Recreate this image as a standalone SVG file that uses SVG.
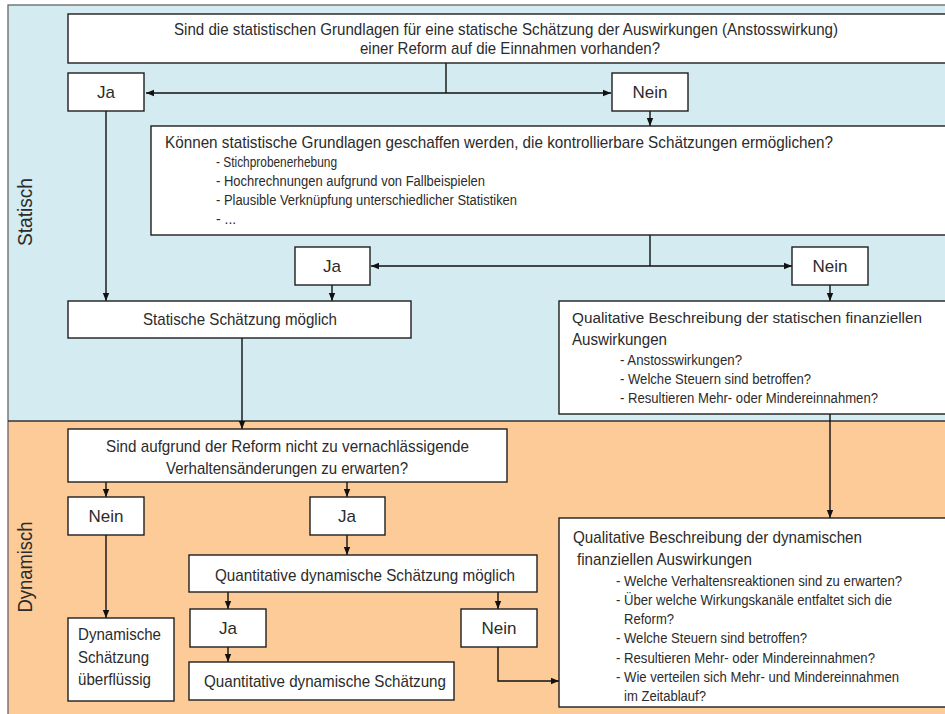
<svg xmlns="http://www.w3.org/2000/svg" width="945" height="714" viewBox="0 0 945 714">
<style>
.box{fill:#fff;stroke:#1e1e1e;stroke-width:1.4}
.t{font-family:"Liberation Sans Narrow","Liberation Sans",Arial,sans-serif;font-size:17px;fill:#2b2b2b}
.s{font-family:"Liberation Sans Narrow","Liberation Sans",Arial,sans-serif;font-size:14px;fill:#2b2b2b}
.q{font-family:"Liberation Sans Narrow","Liberation Sans",Arial,sans-serif;font-size:15.5px;fill:#2b2b2b}
.n{font-size:14px}
.n2{font-size:15.5px}
.m{text-anchor:middle}
.lbl{font-family:"Liberation Sans Narrow","Liberation Sans",Arial,sans-serif;font-size:20px;fill:#2b2b2b;text-anchor:middle}
.c{fill:none;stroke:#111;stroke-width:1.4}
.a{marker-end:url(#ah)}
.b{marker-start:url(#ah);marker-end:url(#ah)}
</style>
<defs>
<marker id="ah" markerUnits="userSpaceOnUse" markerWidth="8" markerHeight="8" viewBox="0 0 8 8" refX="8" refY="4" orient="auto-start-reverse">
<path d="M0,0.8 L8,4 L0,7.2 Z" fill="#111"/>
</marker>
</defs>

<g id="background">
<rect x="8" y="5" width="950" height="416" fill="#D3EBF1"/>
<rect x="8" y="421" width="950" height="300" fill="#FDCB98"/>
<rect x="8" y="5" width="950" height="720" fill="none" stroke="#666" stroke-width="1.3"/>
<line x1="8" y1="421" x2="958" y2="421" stroke="#333" stroke-width="1.3"/>
<text class="lbl" transform="translate(32,212) rotate(-90)" textLength="68" lengthAdjust="spacingAndGlyphs">Statisch</text>
<text class="lbl" transform="translate(32,567) rotate(-90)" textLength="91" lengthAdjust="spacingAndGlyphs">Dynamisch</text>
</g>

<g id="connectors">
<path class="c" d="M446,63 V93"/>
<path class="c b" d="M146,93 H611"/>
<path class="c a" d="M650,111 V126"/>
<path class="c a" d="M106,111 V301"/>
<path class="c" d="M650,235 V266"/>
<path class="c b" d="M371,266 H792"/>
<path class="c a" d="M332,285 V301"/>
<path class="c a" d="M830,285 V301"/>
<path class="c a" d="M242,338 V429"/>
<path class="c a" d="M830,414 V518"/>
<path class="c a" d="M106,482 V497"/>
<path class="c a" d="M347,482 V497"/>
<path class="c a" d="M106,535 V618"/>
<path class="c a" d="M347,535 V555"/>
<path class="c a" d="M228,592 V609"/>
<path class="c a" d="M498,592 V609"/>
<path class="c a" d="M228,647 V662"/>
<path class="c a" d="M498,647 V681 H559"/>
</g>

<g id="q1">
<rect class="box" x="68" y="14" width="900" height="49"/>
<text class="t" x="174" y="35" textLength="664" lengthAdjust="spacingAndGlyphs">Sind die statistischen Grundlagen für eine statische Schätzung der Auswirkungen (Anstosswirkung)</text>
<text class="t" x="360" y="54" textLength="300" lengthAdjust="spacingAndGlyphs">einer Reform auf die Einnahmen vorhanden?</text>
</g>

<g id="ja1">
<rect class="box" x="68" y="73" width="76" height="38"/>
<text class="t m" x="106" y="98">Ja</text>
</g>

<g id="nein1">
<rect class="box" x="612" y="73" width="76" height="38"/>
<text class="t m" x="650" y="98">Nein</text>
</g>

<g id="q2">
<rect class="box" x="151" y="126" width="820" height="109"/>
<text class="t" x="165" y="148" textLength="668" lengthAdjust="spacingAndGlyphs">Können statistische Grundlagen geschaffen werden, die kontrollierbare Schätzungen ermöglichen?</text>
<text class="s" x="216" y="167" textLength="121" lengthAdjust="spacingAndGlyphs">- Stichprobenerhebung</text>
<text class="s" x="216" y="186" textLength="269" lengthAdjust="spacingAndGlyphs">- Hochrechnungen aufgrund von Fallbeispielen</text>
<text class="s" x="216" y="205" textLength="301" lengthAdjust="spacingAndGlyphs">- Plausible Verknüpfung unterschiedlicher Statistiken</text>
<text class="s" x="216" y="224">- ...</text>
</g>

<g id="ja2">
<rect class="box" x="295" y="247" width="75" height="38"/>
<text class="t m" x="332" y="272">Ja</text>
</g>

<g id="nein2">
<rect class="box" x="792" y="247" width="76" height="38"/>
<text class="t m" x="830" y="272">Nein</text>
</g>

<g id="static-possible">
<rect class="box" x="68" y="301" width="343" height="37"/>
<text class="t" x="143" y="325" textLength="194" lengthAdjust="spacingAndGlyphs">Statische Schätzung möglich</text>
</g>

<g id="qual-static">
<rect class="box" x="559" y="301" width="410" height="113"/>
<text class="t n2" x="572" y="323" textLength="350" lengthAdjust="spacingAndGlyphs">Qualitative Beschreibung der statischen finanziellen</text>
<text class="t" x="572" y="345" textLength="95" lengthAdjust="spacingAndGlyphs">Auswirkungen</text>
<text class="q" x="620" y="365" textLength="122" lengthAdjust="spacingAndGlyphs">- Anstosswirkungen?</text>
<text class="q" x="620" y="384" textLength="191" lengthAdjust="spacingAndGlyphs">- Welche Steuern sind betroffen?</text>
<text class="q" x="620" y="403" textLength="258" lengthAdjust="spacingAndGlyphs">- Resultieren Mehr- oder Mindereinnahmen?</text>
</g>

<g id="q3">
<rect class="box" x="68" y="429" width="439" height="53"/>
<text class="t" x="106" y="452" textLength="363" lengthAdjust="spacingAndGlyphs">Sind aufgrund der Reform nicht zu vernachlässigende</text>
<text class="t" x="166" y="474" textLength="242" lengthAdjust="spacingAndGlyphs">Verhaltensänderungen zu erwarten?</text>
</g>

<g id="nein3">
<rect class="box" x="68" y="497" width="76" height="38"/>
<text class="t m" x="106" y="522">Nein</text>
</g>

<g id="ja3">
<rect class="box" x="310" y="497" width="75" height="38"/>
<text class="t m" x="347" y="522">Ja</text>
</g>

<g id="dyn-unnecessary">
<rect class="box" x="68" y="618" width="106" height="83"/>
<text class="t" x="78" y="640" textLength="83" lengthAdjust="spacingAndGlyphs">Dynamische</text>
<text class="t" x="78" y="663" textLength="71" lengthAdjust="spacingAndGlyphs">Schätzung</text>
<text class="t" x="78" y="685" textLength="73" lengthAdjust="spacingAndGlyphs">überflüssig</text>
</g>

<g id="quant-possible">
<rect class="box" x="189" y="555" width="348" height="37"/>
<text class="t" x="215" y="581" textLength="300" lengthAdjust="spacingAndGlyphs">Quantitative dynamische Schätzung möglich</text>
</g>

<g id="ja4">
<rect class="box" x="190" y="609" width="76" height="38"/>
<text class="t m" x="228" y="634">Ja</text>
</g>

<g id="nein4">
<rect class="box" x="461" y="609" width="76" height="38"/>
<text class="t m" x="499" y="634">Nein</text>
</g>

<g id="quant-estimate">
<rect class="box" x="189" y="662" width="265" height="38"/>
<text class="t" x="204" y="687" textLength="242" lengthAdjust="spacingAndGlyphs">Quantitative dynamische Schätzung</text>
</g>

<g id="qual-dynamic">
<rect class="box" x="559" y="518" width="410" height="189"/>
<text class="t" x="573" y="543" textLength="289" lengthAdjust="spacingAndGlyphs">Qualitative Beschreibung der dynamischen</text>
<text class="t" x="577" y="565" textLength="175" lengthAdjust="spacingAndGlyphs">finanziellen Auswirkungen</text>
<text class="q n" x="616" y="586" textLength="286" lengthAdjust="spacingAndGlyphs">- Welche Verhaltensreaktionen sind zu erwarten?</text>
<text class="q n" x="616" y="605" textLength="276" lengthAdjust="spacingAndGlyphs">- Über welche Wirkungskanäle entfaltet sich die</text>
<text class="q" x="624" y="624" textLength="50" lengthAdjust="spacingAndGlyphs">Reform?</text>
<text class="q" x="616" y="643" textLength="191" lengthAdjust="spacingAndGlyphs">- Welche Steuern sind betroffen?</text>
<text class="q" x="616" y="663" textLength="259" lengthAdjust="spacingAndGlyphs">- Resultieren Mehr- oder Mindereinnahmen?</text>
<text class="q n" x="616" y="682" textLength="283" lengthAdjust="spacingAndGlyphs">- Wie verteilen sich Mehr- und Mindereinnahmen</text>
<text class="q" x="624" y="701" textLength="82" lengthAdjust="spacingAndGlyphs">im Zeitablauf?</text>
</g>
</svg>
